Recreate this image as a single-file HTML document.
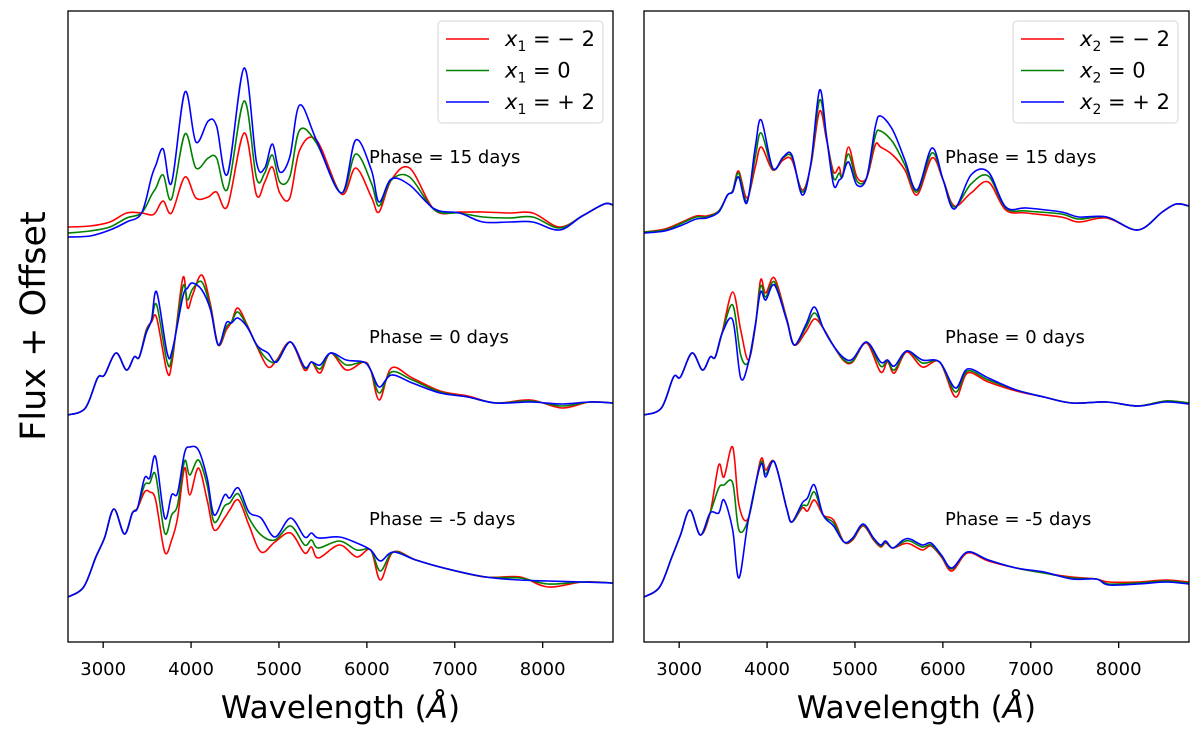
<!DOCTYPE html>
<html><head><meta charset="utf-8"><style>
body{margin:0;background:#fff;}
svg{display:block;font-family:"DejaVu Sans","Liberation Sans",sans-serif;}
</style></head><body>
<svg id="chart" width="1200" height="732" viewBox="0 0 1200 732" xmlns="http://www.w3.org/2000/svg"></svg>
<script>
const xTicks=[3000,4000,5000,6000,7000,8000];
const phaseLabels=["Phase = 15 days","Phase = 0 days","Phase = -5 days"];
const legendLabelsL=["− 2","0","+ 2"];
// Left panel (x1)
const ltWave=[2600,2850,3077,3267,3437,3550,3600,3683,3778,3930,4055,4195,4290,4415,4604,4744,4838,4925,5009,5123,5236,5426,5710,5873,6051,6138,6278,6486,6770,7055,7320,7623,7888,8190,8450,8700,8800];
const ltRed=[415,416,420,429,429,427,430,441,429,465,444,445,450,436,509,447,460,475,449,444,492,502,448,474,445,430,462,474,432,430,430,429,429,415,426,438,437];
const ltGreen=[409,411,415,424,429,447,454,467,443,508,474,484,484,453,541,464,469,487,460,465,512,499,449,488,459,436,462,465,432,429,425,424,425,414,426,438,437];
const ltBlue=[405,406,412,420,429,465,477,493,459,550,500,521,516,468,574,480,474,498,470,485,537,502,449,502,472,440,463,457,433,429,420,420,420,412,426,438,437];
const lmWave=[2600,2798,2936,3015,3146,3265,3352,3411,3490,3550,3609,3728,3787,3906,3960,4017,4123,4222,4309,4400,4460,4531,4638,4757,4875,4974,5132,5291,5370,5469,5588,5766,5963,6043,6142,6280,6517,6834,7150,7467,7863,8219,8535,8800];
const lmRed=[227,234,264,267,289,272,285,285,312,320,324,270,282,364,334,347,367,337,297,312,320,334,317,294,275,282,300,272,280,269,289,272,280,272,242,274,264,251,246,239,242,234,240,239];
const lmGreen=[227,234,264,267,289,272,285,285,311,321,337,280,287,355,342,353,360,334,297,315,320,330,316,295,282,281,300,274,280,273,289,277,280,272,249,270,262,250,245,239,241,236,240,239];
const lmBlue=[227,234,264,267,289,272,285,285,309,322,350,289,292,345,354,359,352,332,297,319,319,324,315,296,289,280,300,275,280,277,289,282,280,272,255,267,259,249,245,239,240,238,240,239];
const lbWave=[2600,2778,2917,3015,3122,3241,3332,3391,3471,3530,3597,3700,3779,3846,3926,3985,4084,4183,4262,4381,4440,4539,4658,4796,4954,5132,5291,5370,5449,5687,5884,6043,6153,6300,6557,6874,7348,7744,8061,8456,8800];
const lbRed=[45,55,85,104,133,108,129,134,150,150,142,90,102,124,174,147,174,142,112,124,132,142,117,90,100,109,89,95,84,97,85,92,62,90,82,74,65,65,55,60,59];
const lbGreen=[45,55,85,104,133,108,129,134,157,159,167,109,127,137,181,167,182,157,120,136,139,148,124,107,102,116,97,102,94,101,92,92,71,90,82,74,65,64,58,60,59];
const lbBlue=[45,55,85,104,133,108,129,134,164,164,185,124,147,149,189,195,192,164,127,147,144,154,130,124,105,124,105,109,104,105,99,92,81,90,82,74,65,62,61,60,59];
// Right panel (x2)
const rtWave=[2600,2837,3035,3194,3312,3451,3550,3609,3676,3771,3866,3934,4064,4183,4282,4400,4499,4598,4677,4757,4820,4855,4927,5022,5132,5231,5291,5429,5568,5706,5876,6003,6130,6320,6517,6715,6953,7348,7546,7863,8219,8496,8654,8800];
const rtRed=[410,413,420,426,426,431,447,451,471,444,475,495,472,482,482,452,477,531,502,470,475,465,495,465,464,497,495,487,472,447,484,462,436,449,460,432,429,425,420,424,412,430,438,436];
const rtGreen=[410,412,419,425,425,431,447,451,469,441,485,509,473,484,485,450,478,542,504,464,469,465,488,461,464,506,511,500,477,450,489,462,435,458,466,434,431,428,423,425,412,430,438,436];
const rtBlue=[409,411,417,423,424,430,447,450,465,439,495,522,474,485,487,447,479,552,505,457,462,465,480,457,464,515,526,512,482,452,494,462,433,467,470,435,434,430,425,425,412,430,438,436];
const rmWave=[2600,2798,2936,3015,3146,3265,3352,3411,3490,3609,3700,3787,3866,3926,3985,4084,4222,4309,4440,4539,4638,4757,4875,4974,5132,5291,5370,5449,5588,5766,5963,6142,6280,6517,6834,7150,7467,7863,8219,8535,8800];
const rmRed=[227,234,265,265,289,272,285,285,310,350,312,282,315,362,349,364,324,297,310,323,314,296,281,280,299,270,280,269,290,275,280,245,269,260,251,245,239,240,236,241,239];
const rmGreen=[227,234,265,265,289,272,285,285,309,337,287,280,316,356,345,360,323,297,314,329,314,296,282,281,300,276,281,272,291,279,280,250,271,262,252,245,239,240,236,241,239];
const rmBlue=[227,234,265,265,289,272,285,285,309,322,264,279,317,350,342,357,322,297,317,335,314,296,284,283,300,280,282,276,291,282,280,254,273,264,252,245,239,240,236,240,238];
const rbWave=[2600,2778,2917,3015,3122,3241,3352,3450,3510,3609,3680,3787,3926,3985,4084,4222,4282,4400,4460,4539,4638,4757,4875,4974,5092,5211,5291,5350,5429,5549,5627,5766,5865,5983,6103,6280,6517,6834,7150,7467,7744,7884,8219,8535,8800];
const rbRed=[45,55,85,107,132,107,129,177,165,195,137,124,182,172,180,134,120,134,131,142,127,122,100,102,116,102,95,99,94,98,98,92,96,85,71,89,81,74,69,65,63,60,60,62,60];
const rbGreen=[45,55,85,107,132,107,129,154,157,159,112,123,179,168,180,134,120,136,137,150,127,119,100,103,117,103,96,100,94,100,101,95,97,86,73,90,82,74,69,64,63,58,59,61,59];
const rbBlue=[45,55,85,107,132,107,129,129,142,112,64,122,177,165,180,134,120,139,144,157,127,116,100,104,118,104,97,101,94,102,103,97,99,87,74,90,82,74,70,63,63,57,58,60,58];

const NS="http://www.w3.org/2000/svg";
const svg=document.getElementById('chart');
const X0=2600,X1=8800,TOP=11,BOT=642,YMAX=631;
function mk(tag,attrs,parent){const e=document.createElementNS(NS,tag);for(const k in attrs)e.setAttribute(k,attrs[k]);(parent||svg).appendChild(e);return e;}
function xScale(panel,w){return panel.left+(w-X0)/(X1-X0)*(panel.right-panel.left);}
function yScale(v){return BOT-v/YMAX*(BOT-TOP);}
function pathFrom(pts){
  let d="M"+pts[0][0].toFixed(2)+","+pts[0][1].toFixed(2);
  for(let i=0;i<pts.length-1;i++){
    const p0=pts[Math.max(0,i-1)],p1=pts[i],p2=pts[i+1],p3=pts[Math.min(pts.length-1,i+2)];
    const c1x=p1[0]+(p2[0]-p0[0])/6,c1y=p1[1]+(p2[1]-p0[1])/6;
    const c2x=p2[0]-(p3[0]-p1[0])/6,c2y=p2[1]-(p3[1]-p1[1])/6;
    d+=" C"+c1x.toFixed(2)+","+c1y.toFixed(2)+" "+c2x.toFixed(2)+","+c2y.toFixed(2)+" "+p2[0].toFixed(2)+","+p2[1].toFixed(2);
  }
  return d;
}
const colors={red:"#ff0000",green:"#008000",blue:"#0000ff"};
const panels=[
 {left:68,right:613,name:"left",sub:"1",groups:[[ltWave,ltRed,ltGreen,ltBlue],[lmWave,lmRed,lmGreen,lmBlue],[lbWave,lbRed,lbGreen,lbBlue]],lgx:438},
 {left:644,right:1189,name:"right",sub:"2",groups:[[rtWave,rtRed,rtGreen,rtBlue],[rmWave,rmRed,rmGreen,rmBlue],[rbWave,rbRed,rbGreen,rbBlue]],lgx:1013}
];
const phaseY=[157,337,519];
const groupNames=["phase-15","phase-0","phase-minus-5"];
panels.forEach(p=>{
  const g=mk('g',{});
  
  
  const clip=mk('clipPath',{id:'clip-'+p.name},g);
  mk('rect',{x:p.left,y:TOP,width:p.right-p.left,height:BOT-TOP},clip);
  const plot=mk('g',{'clip-path':'url(#clip-'+p.name+')'},g);
  p.groups.forEach((grp,gi)=>{
    const wave=grp[0];
    ["red","green","blue"].forEach((c,ci)=>{
      const vals=grp[ci+1];const n=Math.min(wave.length,vals.length);
      const pts=[];for(let i=0;i<n;i++)pts.push([xScale(p,wave[i]),yScale(vals[i])]);
      const path=mk('path',{d:pathFrom(pts),fill:"none",stroke:colors[c],'stroke-width':1.6,'stroke-linejoin':'round'},plot);
      
      
    });
    const t=mk('text',{x:p.left+301,y:phaseY[gi]+6,'font-size':18,fill:'#000'},g);
    t.textContent=phaseLabels[gi];
    
    
  });
  const frame=mk('rect',{x:p.left,y:TOP,width:p.right-p.left,height:BOT-TOP,fill:'none',stroke:'#000','stroke-width':1.3},g);
  
  
  xTicks.forEach(tv=>{
    const x=xScale(p,tv);
    const tk=mk('line',{x1:x,x2:x,y1:BOT,y2:BOT+6,stroke:'#000','stroke-width':1.3},g);
    
    
    const tl=mk('text',{x:x,y:BOT+33,'font-size':18,'text-anchor':'middle',fill:'#000'},g);
    tl.textContent=tv;
    
    
  });
  const xl=mk('text',{x:(p.left+p.right)/2,y:718,'font-size':31,'text-anchor':'middle',fill:'#000'},g);
  xl.innerHTML='Wavelength (<tspan font-style="italic">Å</tspan>)';
  
  
  const lg=mk('g',{},g);
  
  
  mk('rect',{x:p.lgx,y:21,width:165,height:102,rx:4,fill:'#fff','fill-opacity':0.8,stroke:'#d6d6d6','stroke-width':1},lg);
  ["red","green","blue"].forEach((c,i)=>{
    const y=39+i*31.5;
    const e=mk('g',{},lg);
    
    
    mk('line',{x1:p.lgx+8,x2:p.lgx+51,y1:y,y2:y,stroke:colors[c],'stroke-width':1.6},e);
    const t=mk('text',{x:p.lgx+67,y:y+7,'font-size':21,fill:'#000'},e);
    t.innerHTML='<tspan font-style="italic">x</tspan><tspan font-size="14" dy="5">'+p.sub+'</tspan><tspan dy="-5"> = '+legendLabelsL[i]+'</tspan>';
  });
});
const yl=mk('text',{x:0,y:0,'font-size':35,'text-anchor':'middle',fill:'#000',transform:'translate(45,326) rotate(-90)'});
yl.textContent='Flux + Offset';


</script>
</body></html>
